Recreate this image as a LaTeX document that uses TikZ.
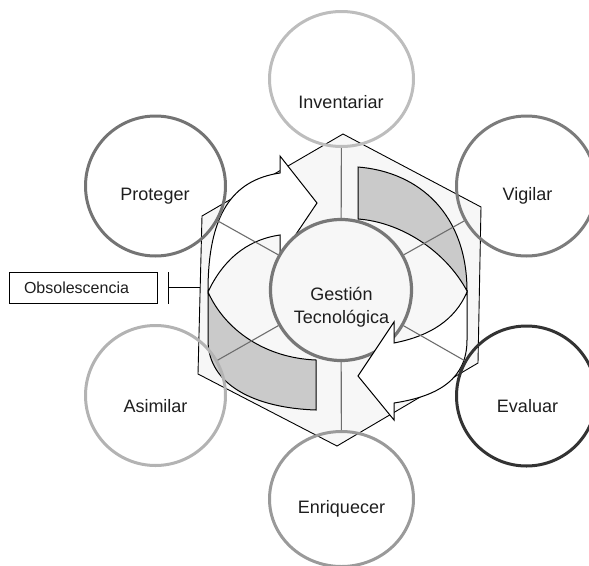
\documentclass[tikz,border=0pt]{standalone}
\usepackage{fontspec}
\setmainfont{Liberation Sans}
\usetikzlibrary{arrows.meta,shapes.geometric}
\definecolor{hexfill}{HTML}{F7F7F7}
\definecolor{bandgrey}{HTML}{CACACA}
\definecolor{cInv}{HTML}{BDBDBD}
\definecolor{cPro}{HTML}{747474}
\definecolor{cVig}{HTML}{7C7C7C}
\definecolor{cAsi}{HTML}{B3B3B3}
\definecolor{cEva}{HTML}{333333}
\definecolor{cEnr}{HTML}{9A9A9A}
\definecolor{cCen}{HTML}{777777}
\definecolor{cSpoke}{HTML}{6E6E6E}
\definecolor{txt}{HTML}{1E1E1E}
\begin{document}
\begin{tikzpicture}[x=1pt,y=-1pt,
  outer/.style={circle,draw,line width=3pt,minimum size=140pt,inner sep=0pt},
  outerv/.style={ellipse,draw,line width=3pt,minimum width=144pt,minimum height=135pt,inner sep=0pt},
  lbl/.style={font=\fontsize{18}{23}\selectfont,text=txt,inner sep=0pt,align=center},
  band/.style={draw=black,line width=1pt,line join=miter},
  spoke/.style={draw=cSpoke,line width=1.1pt}
]
\useasboundingbox (0,0) rectangle (589,565);

% hexagon
\coordinate (h1) at (343,134);
\coordinate (h2) at (481,207);
\coordinate (h3) at (478,363);
\coordinate (h4) at (337,446);
\coordinate (h5) at (198,374);
\coordinate (h6) at (202,216);
\draw[fill=hexfill,draw=black,line width=0.9pt] (h1)--(h2)--(h3)--(h4)--(h5)--(h6)--cycle;

% arrow 1, front-left (grey)
\path[band,fill=bandgrey] (316,360) .. controls (265,358) and (225,330) .. (208,292)
  -- (208,340) .. controls (208,385) and (255,408) .. (316,410) -- cycle;
% arrow 2, back-right (grey)
\path[band,fill=bandgrey] (358,167) .. controls (420,172) and (467,215) .. (467,291)
  .. controls (445,250) and (400,222) .. (358,219) -- cycle;
% arrow 1, back-left with head (white)
\path[band,fill=white] (208,291) .. controls (208,215) and (232,180) .. (280,173)
  -- (280,156) -- (317,203) -- (280,258) -- (280,235)
  .. controls (245,240) and (222,262) .. (208,292) -- cycle;

% centre circle
\node[circle,draw=cCen,fill=hexfill,line width=3.2pt,minimum size=141pt,inner sep=0pt] (gt) at (341,290) {};

% arrow 2, front-right with head (white)
\path[band,fill=white] (467,292) -- (467,340) .. controls (467,378) and (440,396) .. (394,403)
  -- (394,420) -- (358,376) -- (394,322) -- (394,343)
  .. controls (430,336) and (455,320) .. (467,292) -- cycle;

% outer circles
\node[outerv,draw=cInv] (inv) at (341.5,79) {};
\node[outer,draw=cPro] (pro) at (155.5,186) {};
\node[outer,draw=cVig] (vig) at (526.5,186) {};
\node[outer,draw=cAsi] (asi) at (155.5,395.5) {};
\node[outer,draw=cEva] (eva) at (526.5,396) {};
\node[outerv,draw=cEnr] (enr) at (341.5,499) {};

% spokes
\draw[spoke] (gt) -- (inv);
\draw[spoke] (gt) -- (pro);
\draw[spoke] (gt) -- (vig);
\draw[spoke] (gt) -- (asi);
\draw[spoke] (gt) -- (eva);
\draw[spoke] (gt) -- (enr);

% labels
\node[lbl] (tinv) at (341,102) {Inventariar};
\node[lbl] (tpro) at (155,196) {Proteger};
\node[lbl] (tvig) at (527.5,196) {Vigilar};
\node[lbl] (tasi) at (155.5,406) {Asimilar};
\node[lbl] (teva) at (527.5,406) {Evaluar};
\node[lbl] (tenr) at (341.5,509) {Enriquecer};
\node[lbl] (tgt) at (341.5,307) {Gestión\\Tecnológica};

% obsolescence
\node[draw=black,fill=white,line width=1pt,minimum width=148pt,minimum height=31pt,inner sep=0pt] (obs) at (83,287.5) {};
\node[font=\fontsize{16}{18}\selectfont,text=txt,inner sep=0pt] (tobs) at (76.5,288) {Obsolescencia};
\coordinate (hexL) at (200.2,287.5);
\draw[line width=1.1pt,-{Bar[width=32pt,line width=1.1pt]}] (hexL) -- ([xshift=10pt]obs.east);
\end{tikzpicture}
\end{document}
